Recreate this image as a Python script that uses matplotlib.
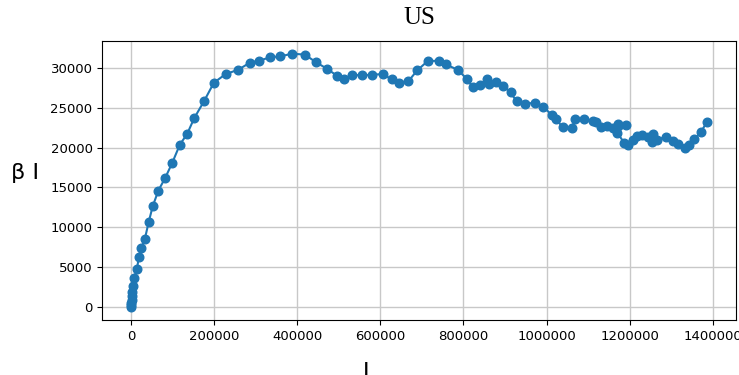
import matplotlib
matplotlib.use("Agg")
import matplotlib.pyplot as plt

# infected I vs beta*I, US
I = [0, 500, 1000, 1500, 2000, 3100, 5000, 7500, 14000, 18800,
     24800, 33200, 42400, 52000, 65700, 82100, 99000, 117500, 135100, 151900,
     175300, 199300, 227500, 257900, 286000, 308400, 334200, 359000, 387900, 418400,
     445600, 471400, 495500, 512300, 530900, 554900, 579700, 607000, 627200, 645500,
     667600, 688800, 713900, 741100, 757200, 786100, 807800, 822200, 839800, 855900,
     860700, 877600, 895900, 913700, 928100, 948100, 971500, 992200, 1012400, 1022700,
     1039600, 1061300, 1067800, 1090900, 1111100, 1119100, 1131800, 1144800, 1159300, 1172700,
     1191300, 1170300, 1187200, 1195400, 1208900, 1218500, 1230500, 1245000, 1257000, 1254600,
     1266700, 1286900, 1303700, 1317200, 1333300, 1343700, 1355700, 1371100, 1386000]
beta_I = [0, 230, 540, 920, 1360, 1920, 2670, 3680, 4810, 6250,
          7440, 8570, 10670, 12630, 14620, 16190, 18070, 20370, 21710, 23670,
          25770, 28110, 29190, 29740, 30620, 30870, 31290, 31410, 31750, 31630,
          30660, 29870, 28990, 28520, 29120, 29030, 29120, 29190, 28520, 28110,
          28310, 29660, 30820, 30870, 30410, 29740, 28610, 27560, 27810, 28560,
          27990, 28240, 27690, 26890, 25770, 25480, 25600, 25100, 24100, 23510,
          22540, 22460, 23510, 23510, 23380, 23170, 22590, 22670, 22410, 23000,
          22790, 21840, 20580, 20370, 21000, 21410, 21620, 21290, 21710, 20750,
          21000, 21340, 20870, 20460, 19950, 20370, 21030, 21910, 23170]

fig = plt.figure(figsize=(7.39, 3.75), dpi=100)
ax = fig.add_axes([0.1384, 0.1467, 0.8571, 0.744])
ax.plot(I, beta_I, marker="o", markersize=6.2, color="#1f77b4", linewidth=1.5)
ax.grid(True, color="#c8c8c8", linewidth=1)
ax.ticklabel_format(style="plain", useOffset=False)
ax.tick_params(labelsize=9.5)
ax.set_title("US", fontsize=18, family="Liberation Serif", pad=12)
ax.set_xlabel("I", fontsize=16, labelpad=14)
ax.xaxis.label.set_x(0.416)
ax.set_ylabel("β I", fontsize=16, rotation=0, ha="right", va="center", labelpad=8)
ax.yaxis.label.set_y(0.527)

fig.savefig("out.png", dpi=100)
